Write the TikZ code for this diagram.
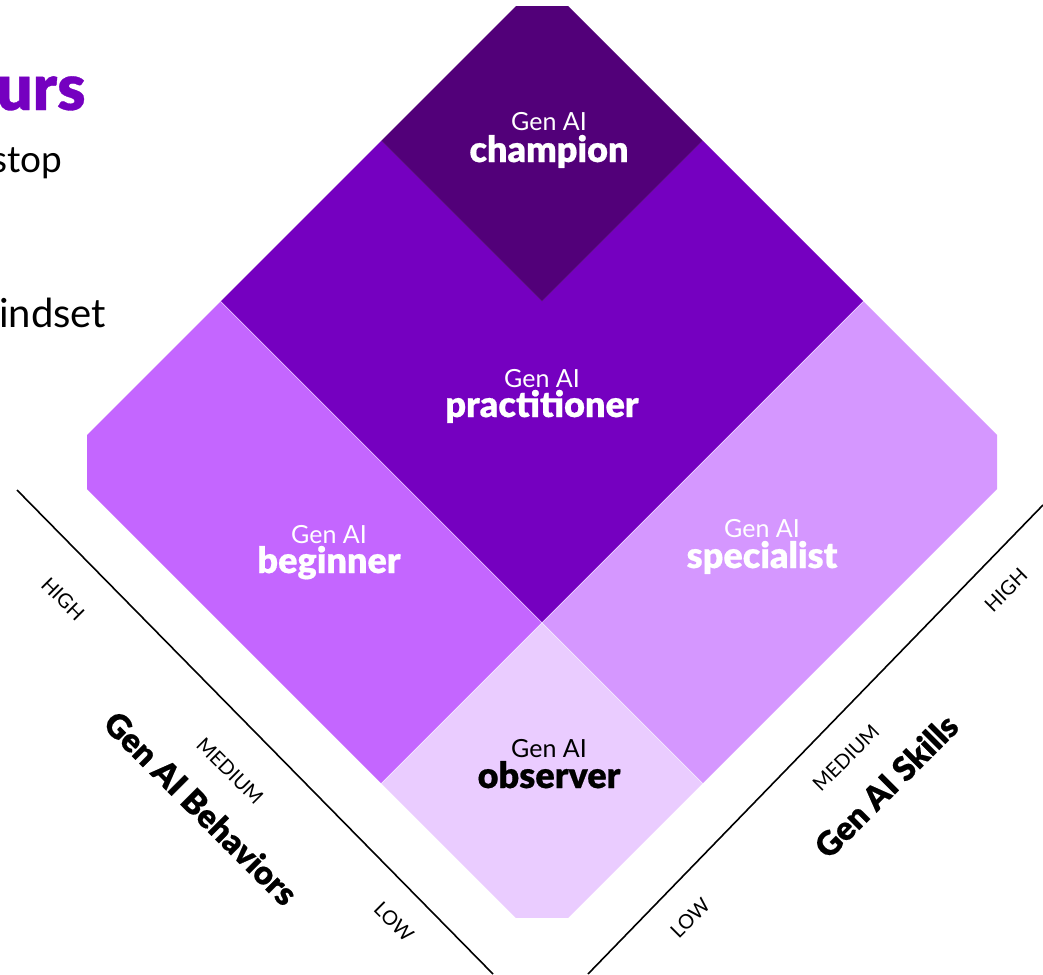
\documentclass[tikz,border=0pt]{standalone}
\usepackage{fontspec}
\setmainfont{Lato}
\IfFontExistsTF{Lato Black}{\newfontfamily\heavy{Lato Black}[FakeBold=0.5]}{\newfontfamily\heavy{Lato}[UprightFont=*,UprightFeatures={FakeBold=1.6},BoldFont=*]}
\definecolor{champ}{HTML}{520079}
\definecolor{pract}{HTML}{7500C0}
\definecolor{begn}{HTML}{C466FF}
\definecolor{spec}{HTML}{D597FF}
\definecolor{obs}{HTML}{EACCFF}
\tikzset{
  region/.style={draw=white, draw opacity=0.7, line width=0.5pt},
  genai/.style={anchor=base, inner sep=0pt, font=\fontsize{25}{28}\selectfont},
  role/.style={anchor=base, inner sep=0pt, font=\heavy\fontsize{36}{40}\selectfont},
  lvl/.style={inner sep=0pt, font=\fontsize{20}{23}\selectfont},
  axtitle/.style={inner sep=0pt, font=\heavy\fontsize{33}{36}\selectfont},
  axis/.style={draw=black, line width=1.6pt},
  frag/.style={anchor=base west, inner sep=0pt}
}
\begin{document}
\begin{tikzpicture}[x=1pt, y=-1pt]
\useasboundingbox (0,0) rectangle (1043,974);
\clip (0,0) rectangle (1043,974);
% grid coordinates
\coordinate (B) at (542,944);
\coordinate (s1) at (702.67,783.33);
\coordinate (b1) at (381.33,783.33);
\coordinate (m) at (542,622.67);
\coordinate (R) at (1024,462);
\coordinate (Rb) at (863.33,301.33);
\coordinate (L) at (60,462);
\coordinate (Ls) at (220.67,301.33);
\coordinate (c) at (542,301.33);
\coordinate (Tr) at (702.67,140.67);
\coordinate (Tl) at (381.33,140.67);
\coordinate (T) at (542,-20);
\begin{scope}
\clip (87,7) rectangle (997,917);
\fill[pract] (m) -- (Rb) -- (Tr) -- (c) -- (Tl) -- (Ls) -- cycle;
\fill[champ] (c) -- (Tr) -- (T) -- (Tl) -- cycle;
\fill[begn] (b1) -- (m) -- (Ls) -- (L) -- cycle;
\fill[spec] (s1) -- (R) -- (Rb) -- (m) -- cycle;
\fill[obs] (B) -- (s1) -- (m) -- (b1) -- cycle;
\draw[region] (Ls) -- (m) -- (Rb);
\draw[region] (b1) -- (m) -- (s1);
\end{scope}
% region labels
\node[genai, text=white] (g1) at (549,130) {Gen AI};
\node[role, text=white] (r1) at (549,162) {champion};
\node[genai, text=white] (g2) at (542,387) {Gen AI};
\node[role, text=white] (r2) at (542,417) {practitioner};
\node[genai, text=white] (g3) at (329,543) {Gen AI};
\node[role, text=white] (r3) at (329,573) {beginner};
\node[genai, text=white] (g4) at (762,537) {Gen AI};
\node[role, text=white] (r4) at (762,568) {specialist};
\node[genai, text=black] (g5) at (549,757) {Gen AI};
\node[role, text=black] (r5) at (549,788) {observer};
% axes
\coordinate (ah) at (17,490);
\coordinate (al) at (493,974);
\draw[axis] (ah) -- (al);
\coordinate (sl) at (588,974);
\coordinate (sh) at (1043,505);
\draw[axis] (sl) -- (sh);
\node[lvl, rotate=-45] (bhigh) at (63,599) {HIGH};
\node[lvl, rotate=-45] (bmed) at (230,771) {MEDIUM};
\node[lvl, rotate=-45] (blow) at (394,922) {LOW};
\node[axtitle, rotate=-45] (btitle) at (201,808) {Gen AI Behaviors};
\node[lvl, rotate=45] (slow) at (690,918) {LOW};
\node[lvl, rotate=45] (smed) at (846,758) {MEDIUM};
\node[lvl, rotate=45] (shigh) at (1006,590) {HIGH};
\node[axtitle, rotate=45] (stitle) at (886,786) {Gen AI Skills};
% cut-off fragments at left edge
\node[frag, text=pract, font=\heavy\fontsize{64}{70}\selectfont] (f1) at (-4,110) {urs};
\node[frag, font=\fontsize{37}{40}\selectfont] (f2) at (-9,172) {stop};
\node[frag, font=\fontsize{40}{44}\selectfont] (f3) at (-1,327) {indset};
\end{tikzpicture}
\end{document}
